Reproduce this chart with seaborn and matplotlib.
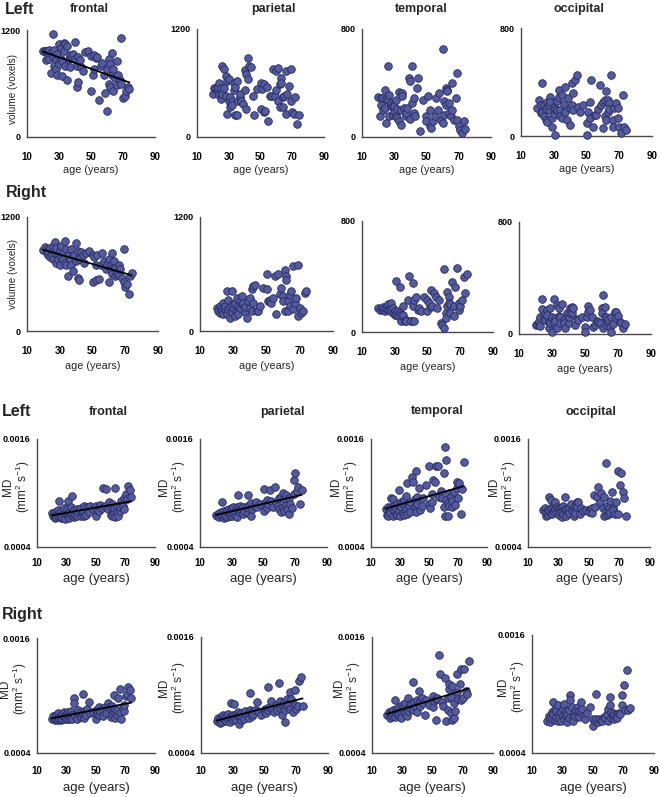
import numpy as np
import pandas as pd
import matplotlib
matplotlib.use("Agg")
import matplotlib.pyplot as plt
import seaborn as sns

# ---------------- data ----------------
ages = [20, 21, 22, 22, 23, 23, 24, 24, 25, 25,
        26, 26, 27, 27, 28, 28, 29, 29, 30, 30,
        31, 31, 32, 32, 33, 33, 34, 34, 35, 35,
        36, 37, 37, 38, 39, 40, 40, 41, 41, 42,
        42, 43, 44, 45, 46, 48, 50, 50, 51, 52,
        52, 53, 54, 55, 56, 57, 58, 59, 60, 60,
        61, 61, 62, 62, 63, 63, 64, 64, 65, 66,
        66, 67, 68, 69, 69, 70, 71, 72, 73, 74]

# volume (voxels), left hemisphere
vol_left_frontal = [970, 960, 860, 970, 950, 900, 980, 880, 940, 720,
                    1160, 900, 800, 980, 760, 870, 930, 700, 1040, 820,
                    1000, 880, 850, 680, 1050, 960, 1040, 800, 640, 1020,
                    880, 920, 780, 900, 930, 1070, 880, 560, 800, 620,
                    900, 860, 780, 740, 950, 960, 520, 910, 700, 760,
                    920, 890, 900, 420, 800, 830, 700, 490, 290, 760,
                    600, 880, 820, 560, 940, 700, 520, 760, 660, 580,
                    850, 700, 640, 1110, 600, 440, 460, 520, 560, 540]
vol_left_parietal = [480, 540, 530, 540, 520, 560, 600, 470, 420, 540,
                     790, 480, 750, 550, 460, 680, 260, 620, 400, 640,
                     330, 440, 400, 360, 600, 520, 240, 560, 620, 240,
                     400, 440, 480, 400, 370, 740, 520, 310, 700, 880,
                     640, 790, 780, 460, 240, 530, 600, 310, 530, 590,
                     280, 290, 560, 180, 460, 460, 750, 460, 735, 520,
                     770, 400, 590, 330, 660, 605, 330, 440, 460, 257,
                     735, 480, 570, 400, 750, 275, 257, 440, 150, 240]
vol_left_temporal = [296, 153, 289, 240, 289, 200, 350, 215, 104, 280,
                     523, 277, 313, 153, 227, 250, 165, 240, 190, 230,
                     277, 153, 140, 210, 116, 330, 91, 203, 326, 301,
                     215, 153, 180, 215, 437, 412, 130, 523, 252, 178,
                     290, 153, 363, 437, 42, 277, 153, 116, 301, 203,
                     79, 67, 116, 153, 290, 200, 326, 128, 652, 104,
                     165, 264, 363, 240, 350, 338, 252, 180, 153, 203,
                     400, 128, 289, 474, 128, 79, 54, 30, 121, 60]
vol_left_occipital = [205, 267, 168, 230, 391, 180, 230, 150, 119, 200,
                      106, 250, 193, 230, 292, 255, 131, 69, 218, 160,
                      7, 200, 193, 260, 292, 342, 193, 150, 305, 131,
                      240, 181, 360, 119, 280, 82, 210, 391, 230, 193,
                      317, 416, 453, 218, 180, 230, 7, 94, 181, 255,
                      131, 416, 69, 156, 156, 200, 379, 230, 255, 57,
                      267, 150, 330, 119, 181, 270, 243, 200, 453, 119,
                      69, 205, 243, 131, 205, 69, 20, 305, 69, 45]

# volume (voxels), right hemisphere
vol_right_frontal = [850, 880, 820, 860, 800, 840, 870, 780, 830, 800,
                     760, 900, 940, 820, 720, 870, 800, 760, 850, 700,
                     780, 900, 820, 760, 950, 720, 860, 700, 580, 800,
                     760, 700, 860, 630, 800, 740, 930, 560, 840, 540,
                     760, 830, 800, 720, 820, 840, 520, 800, 780, 700,
                     540, 800, 545, 700, 820, 740, 650, 700, 760, 520,
                     700, 640, 820, 600, 680, 740, 580, 660, 600, 700,
                     590, 650, 560, 860, 520, 460, 500, 390, 580, 610]
vol_right_parietal = [245, 210, 192, 260, 245, 200, 298, 175, 230, 260,
                      420, 175, 228, 322, 252, 140, 420, 200, 245, 280,
                      157, 300, 210, 350, 260, 180, 315, 240, 367, 280,
                      300, 200, 250, 140, 315, 350, 245, 210, 437, 298,
                      472, 480, 210, 210, 260, 455, 437, 595, 315, 315,
                      330, 290, 350, 577, 175, 595, 385, 455, 367, 320,
                      647, 210, 577, 542, 210, 315, 380, 260, 420, 228,
                      682, 300, 350, 700, 157, 245, 192, 210, 402, 420]
vol_right_temporal = [172, 160, 165, 172, 160, 180, 150, 175, 165, 185,
                      160, 200, 170, 150, 208, 165, 172, 140, 148, 120,
                      368, 130, 112, 150, 327, 140, 76, 120, 184, 124,
                      76, 90, 76, 232, 404, 76, 76, 351, 184, 232,
                      76, 255, 160, 172, 148, 255, 232, 148, 208, 180,
                      303, 184, 280, 255, 172, 230, 64, 53, 29, 454,
                      136, 100, 291, 184, 255, 208, 136, 200, 363, 112,
                      184, 322, 458, 160, 208, 184, 232, 399, 280, 418]
vol_right_occipital = [64, 71, 75, 90, 120, 60, 247, 176, 119, 123,
                       100, 140, 171, 135, 88, 40, 183, 76, 17, 120,
                       247, 76, 112, 90, 40, 207, 183, 130, 123, 80,
                       214, 100, 76, 40, 147, 76, 123, 188, 150, 195,
                       147, 183, 64, 110, 100, 123, 52, 17, 123, 160,
                       200, 171, 120, 52, 64, 90, 88, 76, 183, 152,
                       278, 40, 195, 120, 123, 64, 88, 110, 52, 17,
                       123, 71, 159, 159, 112, 130, 88, 76, 40, 71]

# mean diffusivity, in units of 1e-4 mm^2 s^-1, left hemisphere
md_left_frontal = [7.8, 7.5, 7.2, 7.9, 7.6, 7.3, 8.1, 7.4, 9.1, 7.7,
                   7.2, 8.0, 7.6, 7.3, 7.9, 8.3, 7.5, 7.1, 8.2, 7.7,
                   9.1, 7.4, 7.9, 7.2, 8.4, 7.6, 9.7, 7.8, 8.1, 7.3,
                   7.6, 8.2, 7.4, 7.9, 8.1, 7.5, 8.3, 7.7, 8.0, 7.4,
                   8.6, 7.6, 8.5, 7.9, 8.6, 8.2, 7.4, 8.6, 8.1, 8.5,
                   8.0, 8.7, 8.3, 10.6, 8.6, 10.5, 8.2, 9.0, 8.4, 7.6,
                   8.8, 7.4, 7.8, 8.3, 10.6, 7.3, 7.9, 8.6, 7.5, 8.0,
                   8.4, 9.1, 8.6, 9.4, 8.2, 9.9, 9.3, 10.8, 10.3, 9.6]
md_left_parietal = [7.6, 7.4, 7.8, 7.3, 7.9, 7.5, 9.0, 7.6, 7.2, 8.0,
                    7.7, 7.4, 8.1, 7.3, 7.8, 8.2, 7.5, 7.9, 8.3, 7.4,
                    7.8, 8.4, 7.6, 8.0, 8.5, 7.3, 9.8, 8.1, 7.9, 8.6,
                    8.2, 7.7, 8.4, 8.0, 8.5, 9.8, 7.8, 8.3, 8.7, 7.5,
                    8.9, 8.2, 8.6, 9.0, 8.4, 8.8, 10.5, 8.0, 8.9, 9.2,
                    8.3, 8.8, 10.3, 9.1, 8.5, 10.7, 9.0, 8.6, 9.5, 8.2,
                    7.9, 9.6, 10.0, 8.4, 9.3, 8.0, 8.7, 9.8, 8.2, 7.7,
                    9.4, 8.8, 8.3, 11.4, 9.9, 12.2, 10.2, 10.7, 8.8, 10.3]
md_left_temporal = [8.2, 7.6, 8.4, 7.4, 8.0, 7.8, 9.4, 8.5, 9.3, 7.5,
                    8.1, 8.6, 7.7, 8.3, 8.8, 7.6, 10.3, 8.0, 8.7, 7.4,
                    8.5, 9.0, 7.8, 8.9, 7.6, 9.2, 8.2, 9.7, 11.1, 7.7,
                    8.6, 9.0, 7.9, 11.8, 11.2, 8.4, 9.3, 12.4, 7.9, 8.8,
                    9.6, 10.6, 8.1, 8.6, 9.4, 10.9, 13.0, 8.8, 8.3, 9.9,
                    9.0, 11.4, 11.2, 13.0, 13.0, 9.6, 10.2, 9.4, 12.2, 8.5,
                    15.1, 7.5, 13.7, 9.2, 7.5, 8.9, 10.0, 8.6, 9.6, 8.4,
                    9.1, 10.1, 8.7, 11.2, 10.6, 9.5, 11.1, 7.7, 10.4, 13.4]
md_left_occipital = [8.1, 8.3, 7.5, 7.9, 8.1, 7.6, 9.6, 8.0, 9.2, 7.8,
                     8.4, 7.7, 8.6, 7.9, 9.0, 8.2, 7.9, 8.5, 8.3, 7.6,
                     8.3, 7.9, 7.3, 8.0, 8.6, 7.7, 9.6, 8.2, 8.1, 7.5,
                     8.0, 8.3, 7.8, 8.8, 8.1, 7.5, 8.2, 8.6, 7.8, 9.0,
                     8.4, 9.0, 7.7, 8.3, 8.0, 8.1, 8.1, 7.9, 8.2, 8.3,
                     7.8, 9.8, 8.4, 9.6, 10.7, 9.0, 10.0, 8.3, 9.6, 7.4,
                     13.3, 8.0, 8.6, 7.6, 8.3, 7.7, 9.1, 7.9, 10.1, 8.3,
                     8.1, 7.7, 9.0, 12.5, 7.7, 10.9, 12.2, 10.1, 9.4, 7.5]

# mean diffusivity, in units of 1e-4 mm^2 s^-1, right hemisphere
md_right_frontal = [7.6, 7.9, 7.4, 7.7, 8.0, 7.5, 8.2, 7.4, 7.8, 7.6,
                    7.9, 7.4, 8.1, 7.6, 7.8, 8.3, 7.5, 7.9, 8.2, 7.6,
                    7.9, 8.3, 7.5, 8.0, 7.7, 8.4, 8.0, 7.6, 9.7, 9.2,
                    7.9, 8.2, 7.6, 8.5, 8.0, 7.8, 8.3, 10.2, 8.1, 7.7,
                    8.4, 8.0, 8.6, 9.3, 8.2, 8.3, 7.6, 8.5, 8.1, 8.8,
                    8.0, 8.4, 8.6, 7.9, 8.8, 8.2, 9.2, 8.8, 8.5, 7.8,
                    8.9, 8.1, 10.1, 8.3, 7.7, 8.6, 8.0, 8.5, 9.7, 10.7,
                    8.2, 7.6, 8.7, 8.4, 9.0, 9.9, 10.2, 10.9, 10.6, 9.7]
md_right_parietal = [7.3, 7.6, 7.1, 7.5, 7.8, 7.2, 7.6, 7.9, 7.4, 7.7,
                     7.3, 7.8, 7.5, 8.0, 7.2, 7.7, 9.2, 7.6, 7.9, 7.4,
                     9.1, 7.7, 8.0, 7.4, 7.8, 8.2, 7.0, 7.9, 7.4, 8.1,
                     7.7, 8.0, 7.5, 8.3, 7.9, 8.1, 7.6, 10.2, 8.4, 7.8,
                     8.2, 8.0, 8.5, 9.3, 8.3, 7.9, 8.6, 8.2, 8.1, 10.8,
                     8.4, 8.8, 9.4, 8.6, 8.2, 9.0, 8.5, 11.2, 9.4, 8.7,
                     7.9, 9.0, 8.8, 9.3, 7.2, 8.5, 8.9, 9.6, 9.1, 10.3,
                     8.6, 9.6, 8.2, 10.5, 9.0, 8.6, 8.9, 11.5, 11.9, 8.9]
md_right_temporal = [7.9, 8.2, 7.6, 8.0, 8.3, 7.8, 8.1, 8.4, 9.5, 7.7,
                     8.2, 8.6, 7.9, 8.5, 8.0, 8.8, 8.3, 7.6, 8.7, 9.0,
                     8.4, 8.9, 9.2, 8.1, 7.8, 8.6, 9.7, 8.3, 9.1, 8.7,
                     9.0, 11.3, 8.5, 9.3, 8.8, 9.5, 8.2, 10.4, 9.1, 8.9,
                     9.4, 9.7, 9.2, 7.9, 9.5, 9.0, 9.9, 8.8, 9.4, 7.4,
                     9.6, 9.7, 14.1, 12.2, 9.3, 8.9, 11.8, 7.3, 8.5, 9.7,
                     10.6, 11.1, 8.1, 9.8, 10.9, 7.4, 7.6, 9.2, 8.3, 12.2,
                     10.3, 9.6, 11.1, 9.5, 12.7, 9.7, 12.7, 10.4, 10.1, 13.5]
md_right_occipital = [7.3, 7.8, 7.2, 7.6, 8.2, 7.5, 9.2, 8.0, 8.5, 7.4,
                      7.7, 8.3, 8.9, 7.3, 8.0, 7.6, 7.3, 8.2, 8.5, 7.8,
                      7.5, 9.0, 7.8, 8.3, 7.2, 8.0, 8.4, 7.6, 9.9, 9.4,
                      8.7, 7.7, 7.3, 7.8, 8.4, 8.7, 8.0, 7.7, 8.3, 8.2,
                      9.2, 8.5, 7.8, 7.5, 8.1, 8.7, 7.5, 6.7, 7.3, 10.0,
                      7.5, 7.2, 7.5, 7.4, 7.3, 7.7, 7.6, 8.0, 8.5, 7.3,
                      9.7, 8.9, 8.2, 7.6, 7.8, 8.1, 7.5, 7.9, 7.7, 8.0,
                      7.6, 8.1, 8.0, 8.9, 9.9, 10.9, 8.4, 12.4, 8.4, 8.6]

regions = ["frontal", "parietal", "temporal", "occipital"]
x_ticks = [10, 30, 50, 70, 90]
x_tick_labels = ["10", "30", "50", "70", "90"]
vol_ymax = [1200, 1200, 800, 800]
md_ticks = [0.0004, 0.0016]
md_tick_labels = ["0.0004", "0.0016"]
md_scale = 1e-4

rows = [
    dict(data=[vol_left_frontal, vol_left_parietal, vol_left_temporal, vol_left_occipital],
         kind="vol", fit=[True, False, False, False]),
    dict(data=[vol_right_frontal, vol_right_parietal, vol_right_temporal, vol_right_occipital],
         kind="vol", fit=[True, False, False, False]),
    dict(data=[md_left_frontal, md_left_parietal, md_left_temporal, md_left_occipital],
         kind="md", fit=[True, True, True, False]),
    dict(data=[md_right_frontal, md_right_parietal, md_right_temporal, md_right_occipital],
         kind="md", fit=[True, True, True, False]),
]

# ---------------- layout (pixels) ----------------
W, H = 659, 797
boxes = [
    [(27, 155, 30, 137), (197, 324, 29, 137), (362, 491, 29, 137), (521, 652, 28, 136)],
    [(27, 158, 217, 331), (200, 333, 217, 331), (362, 493, 221, 332), (519, 651, 222, 334)],
    [(37, 155, 439, 547), (200, 327, 439, 547), (371, 487, 439, 547), (528, 650, 439, 547)],
    [(37, 155, 638, 753), (201, 328, 637, 753), (372, 493, 637, 753), (532, 654, 635, 753)],
]
md_label_gap = [[5, 12, 11, 10], [8, 13, 9, 5]]  # px between ylabel right edge and axis
xlabel_gap = [28, 30, 26, 29]
xtick_pad = [8, 8, 5, 6.5]

sns.set_style("white")
plt.rcParams["font.family"] = ["Liberation Sans", "DejaVu Sans"]
plt.rcParams["mathtext.fontset"] = "custom"
plt.rcParams["mathtext.rm"] = "Liberation Sans"
plt.rcParams["mathtext.it"] = "Liberation Sans:italic"
plt.rcParams["mathtext.bf"] = "Liberation Sans:bold"
NARROW = ["Liberation Sans Narrow", "Liberation Sans", "DejaVu Sans"]

fig = plt.figure(figsize=(W / 100, H / 100), dpi=100)
fig.patch.set_facecolor("white")

face = "#535b9e"
edge = "#272a5e"
spine_col = "#4a4a4a"

for r, row in enumerate(rows):
    for c in range(4):
        l, rt, t, b = boxes[r][c]
        ax = fig.add_axes([l / W, 1 - b / H, (rt - l) / W, (b - t) / H])
        vals = np.asarray(row["data"][c], dtype=float)
        if row["kind"] == "md":
            vals = vals * md_scale
        df = pd.DataFrame({"age": ages, "value": vals})
        sns.scatterplot(data=df, x="age", y="value", ax=ax, color=face,
                        edgecolor=edge, linewidth=0.6, s=30, zorder=3,
                        clip_on=False, legend=False)
        if row["fit"][c]:
            sns.regplot(data=df, x="age", y="value", ax=ax, scatter=False,
                        ci=None, truncate=True,
                        line_kws=dict(color="black", lw=1.3, zorder=4))
        ax.set_xlim(10, 90)
        ax.set_xticks(x_ticks, labels=x_tick_labels, fontfamily=NARROW,
                      fontweight="bold", fontsize=7)
        if row["kind"] == "vol":
            ax.set_ylim(0, vol_ymax[c])
            ax.set_yticks([0, vol_ymax[c]], labels=["0", str(vol_ymax[c])],
                          fontfamily=NARROW, fontweight="bold", fontsize=6.5)
        else:
            ax.set_ylim(md_ticks[0], md_ticks[1])
            ax.set_yticks(md_ticks, labels=md_tick_labels,
                          fontfamily=NARROW, fontweight="bold", fontsize=6.5)
        for side in ["top", "right"]:
            ax.spines[side].set_visible(False)
        for side in ["left", "bottom"]:
            ax.spines[side].set_color(spine_col)
            ax.spines[side].set_linewidth(1.0)
        ax.tick_params(axis="both", direction="out", length=3, width=0.9,
                       color=spine_col, labelcolor="black")
        ax.tick_params(axis="x", pad=xtick_pad[r])
        ax.tick_params(axis="y", pad=1.5)
        hpx = b - t
        wpx = rt - l
        ax.set_xlabel("age (years)", fontsize=7.8 if r < 2 else 9.5)
        ax.xaxis.set_label_coords(0.5, -xlabel_gap[r] / hpx)
        ax.xaxis.label.set_va("top")
        if row["kind"] == "vol":
            if c == 0:
                ax.set_ylabel("volume (voxels)", fontsize=7.2)
                ax.yaxis.set_label_coords(-9 / wpx, 0.45 if r == 0 else 0.5)
            else:
                ax.set_ylabel("")
        else:
            ax.set_ylabel("MD\n(mm$^{\\mathregular{2}}$ s$^{\\mathregular{-1}}$)",
                          fontsize=8.5, linespacing=0.95)
            ax.yaxis.set_label_coords(-md_label_gap[r - 2][c] / wpx, 0.56)
        ax.set_facecolor("white")

# titles
title_pos = [[(89, 9), (273, 9), (421, 9), (579, 9)],
             [(108, 412), (282, 412), (437, 411), (591, 412)]]
for row_titles in title_pos:
    for name, (x, y) in zip(regions, row_titles):
        fig.text(x / W, 1 - y / H, name, ha="center", va="center",
                 fontsize=9, fontweight="bold")

side_labels = [("Left", 5, 10), ("Right", 6, 192), ("Left", 2, 411), ("Right", 2, 614)]
for txt, x, y in side_labels:
    fig.text(x / W, 1 - y / H, txt, ha="left", va="center",
             fontsize=11.5, fontweight="bold")

fig.savefig("out.png", dpi=100, facecolor="white")
